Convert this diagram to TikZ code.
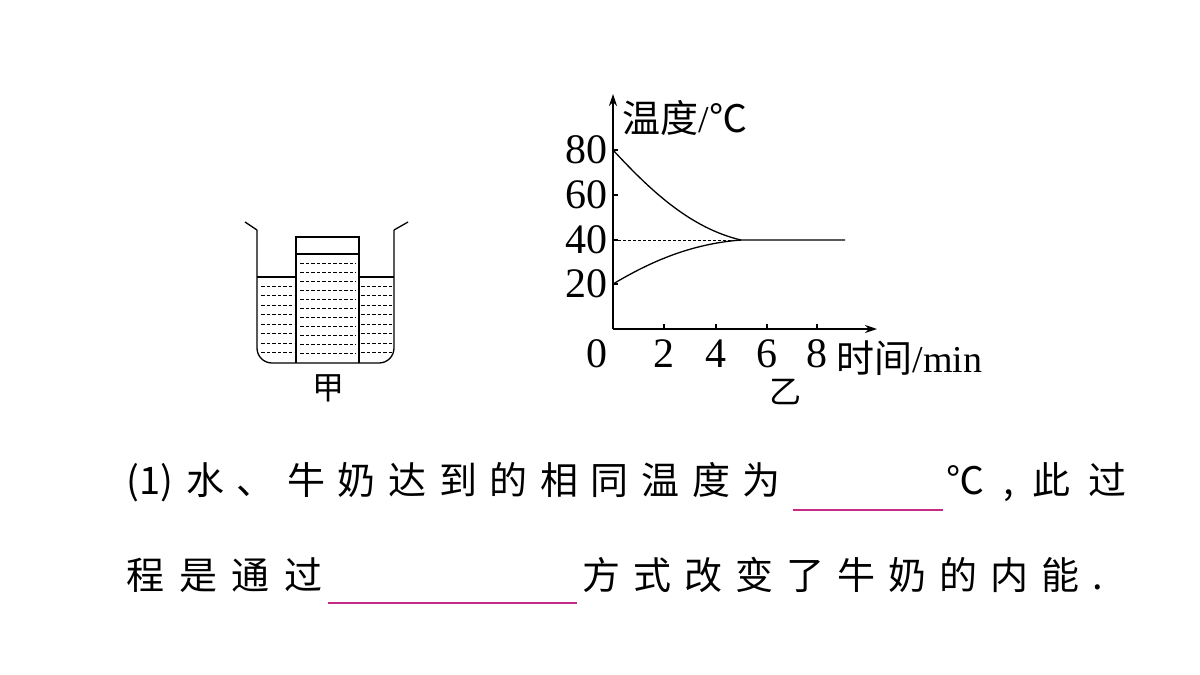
\documentclass[tikz,border=0pt]{standalone}
\usepackage{fontspec}
\setmainfont{Liberation Serif}
\newfontfamily\cjk{Noto Sans CJK SC}
\usetikzlibrary{arrows.meta}
\begin{document}
\begin{tikzpicture}[x=1pt,y=-1pt,line width=1.3pt,
  lbl/.style={inner sep=0pt,font=\fontsize{42}{42}\selectfont},
  txt/.style={inner sep=0pt,anchor=west,font=\cjk\fontsize{38}{38}\selectfont},
  blank/.style={draw=magenta!80!black,line width=1.2pt},
  dsh/.style={line width=1pt,dash pattern=on 3.5pt off 2pt}]
\useasboundingbox[fill=white] (0,0) rectangle (1200,675);
% beaker
\draw[rounded corners=15pt] (257,230) -- (257,363) -- (394,363) -- (394,230);
\draw (245,222) -- (257,230) (394,230) -- (408,222);
\draw (257,277) -- (296,277) (359,277) -- (394,277);
\draw (296,363) -- (296,237) -- (359,237) -- (359,363);
\draw (296,254) -- (359,254);
\foreach \y in {263,272,...,360} \draw[dsh] (300,\y) -- (356,\y);
\foreach \y in {286,295.5,...,356} {\draw[dsh] (261,\y) -- (294,\y); \draw[dsh] (361,\y) -- (392,\y);}
\node[lbl,font=\cjk\fontsize{32}{32}\selectfont] (jia) at (328,388) {甲};
% graph
\coordinate (O) at (613,329);
\draw[-{Stealth[length=12pt,width=8pt]}] (O) -- (613,94) coordinate (ytop);
\draw[-{Stealth[length=12pt,width=8pt]}] (O) -- (877,329) coordinate (xend);
\foreach \v/\y in {80/150,60/195,40/240,20/284} {\draw (613,\y) -- (618,\y); \node[lbl,anchor=east] at (608,\y) {\v};}
\foreach \v/\x in {2/664,4/716,6/767,8/817} {\draw (\x,329) -- (\x,324); \node[lbl] at (\x,354) {\v};}
\node[lbl] at (597,354) {0};
\node[lbl,anchor=west,font=\fontsize{38}{38}\selectfont] (yl) at (622,118) {{\cjk 温度}/{\cjk ℃}};
\node[lbl,anchor=west,font=\fontsize{38}{38}\selectfont] (xl) at (836,358) {{\cjk 时间}/min};
\node[lbl,font=\cjk\fontsize{32}{32}\selectfont] (yi) at (785,392) {乙};
\draw (613,150) .. controls (650,190) and (690,228) .. (741,240) -- (845,240);
\draw (613,284) .. controls (650,262) and (690,244) .. (741,240);
\draw[dash pattern=on 3pt off 2pt,line width=0.9pt] (613,240) -- (741,240);
% text
\node[txt] (t1) at (126,482) {\hbox to 654pt{(1)\hfill 水\hfill 、\hfill 牛\hfill 奶\hfill 达\hfill 到\hfill 的\hfill 相\hfill 同\hfill 温\hfill 度\hfill 为}};
\draw[blank] (793,510) -- (943,510);
\node[txt] (t2) at (946,482) {\hbox to 180pt{℃\hfill ,\hfill 此\hfill 过}};
\node[txt] (t3) at (126,575) {\hbox to 196pt{程\hfill 是\hfill 通\hfill 过}};
\draw[blank] (328,603) -- (577,603);
\node[txt] (t4) at (582,575) {\hbox to 520pt{方\hfill 式\hfill 改\hfill 变\hfill 了\hfill 牛\hfill 奶\hfill 的\hfill 内\hfill 能\hfill .}};
\end{tikzpicture}
\end{document}
